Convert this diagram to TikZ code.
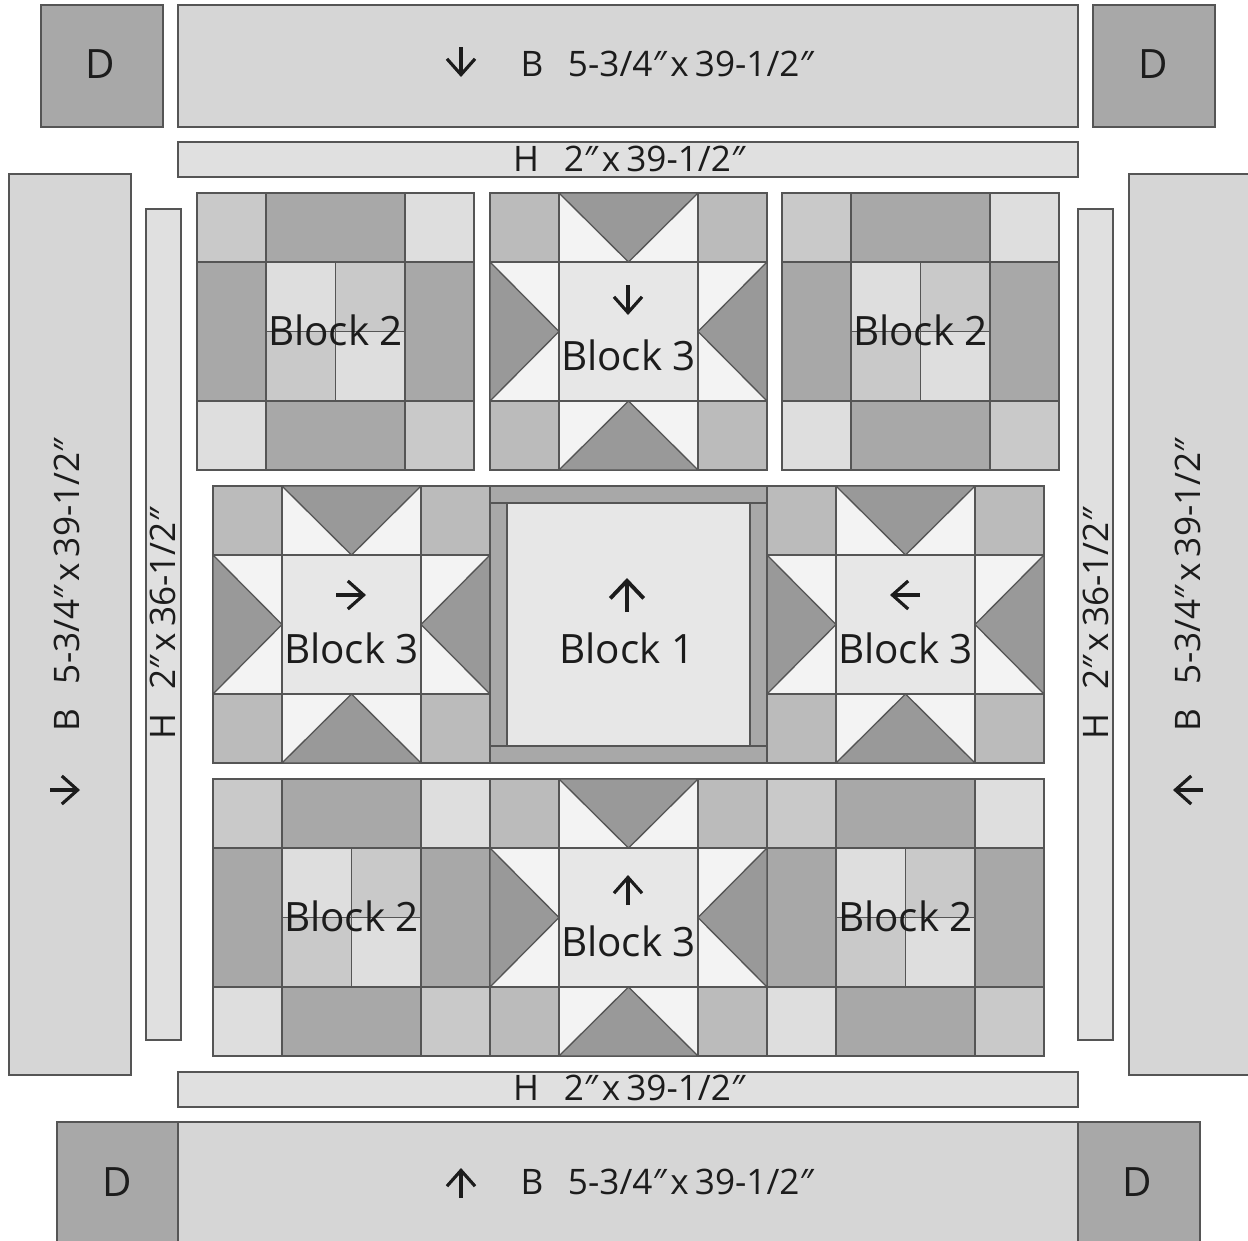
\documentclass[tikz,border=0pt]{standalone}
\usepackage{fontspec}
\setmainfont{Open Sans}
\usetikzlibrary{arrows.meta}

\definecolor{seamgray}{HTML}{555555}
\definecolor{inkgray}{HTML}{1C1C1C}
\definecolor{bordergray}{HTML}{D6D6D6}
\definecolor{sashgray}{HTML}{E0E0E0}
\definecolor{darkgray}{HTML}{A8A8A8}
\definecolor{trigray}{HTML}{999999}
\definecolor{midgray}{HTML}{C9C9C9}
\definecolor{palegray}{HTML}{DEDEDE}
\definecolor{cornergray}{HTML}{BBBBBB}
\definecolor{stargray}{HTML}{F3F3F3}
\definecolor{centergray}{HTML}{E7E7E7}

\newcommand{\inch}{\kern-0.5pt{\itshape ″}\kern-0.5pt}
\newcommand{\bysign}{\hspace{3.5pt}x\hspace{3.5pt}}

\tikzset{
    patch/.style={draw=seamgray, line width=0.75pt},
    lab/.style={text=inkgray, inner sep=0pt, font=\fontsize{23}{27}\selectfont},
    striplab/.style={text=inkgray, inner sep=0pt, font=\fontsize{20}{24}\selectfont},
    arrowmark/.style={draw=inkgray, line width=1.8pt, -{Straight Barb[length=9pt,width=16pt]}},
    bigarrowmark/.style={draw=inkgray, line width=2.2pt, -{Straight Barb[length=10pt,width=19pt]}}
}

\begin{document}
\begin{tikzpicture}[x=0.02cm, y=-0.02cm]
    \useasboundingbox (0,0) rectangle (1248,1241);
    \clip (0,0) rectangle (1248,1241);

    % corner squares
    \fill[white] (0,0) rectangle (1248,1241);
    \foreach \cx/\cy in {41/5, 1093/5, 57/1122, 1078/1122} {
        \filldraw[patch, fill=darkgray] (\cx,\cy) rectangle ++(122,122);
    }

    % outer borders B
    \filldraw[patch, fill=bordergray] (178,5) rectangle (1078,127);
    \filldraw[patch, fill=bordergray] (178,1122) rectangle (1078,1250);
    \filldraw[patch, fill=bordergray] (9,174) rectangle (131,1075);
    \filldraw[patch, fill=bordergray] (1129,174) rectangle (1260,1075);

    % inner borders H
    \filldraw[patch, fill=sashgray] (178,142) rectangle (1078,177);
    \filldraw[patch, fill=sashgray] (178,1072) rectangle (1078,1107);
    \filldraw[patch, fill=sashgray] (146,209) rectangle (181,1040);
    \filldraw[patch, fill=sashgray] (1078,209) rectangle (1113,1040);

    % Block 2
    \foreach \bx/\by in {197/193, 782/193, 213/779, 767/779} {
        \begin{scope}[shift={(\bx,\by)}]
            \filldraw[patch, fill=midgray] (0,0) rectangle (69,69);
            \filldraw[patch, fill=palegray] (208,0) rectangle (277,69);
            \filldraw[patch, fill=palegray] (0,208) rectangle (69,277);
            \filldraw[patch, fill=midgray] (208,208) rectangle (277,277);
            \filldraw[patch, fill=darkgray] (69,0) rectangle (208,69);
            \filldraw[patch, fill=darkgray] (69,208) rectangle (208,277);
            \filldraw[patch, fill=darkgray] (0,69) rectangle (69,208);
            \filldraw[patch, fill=darkgray] (208,69) rectangle (277,208);
            \filldraw[patch, fill=palegray] (69,69) rectangle (138.5,138.5);
            \filldraw[patch, fill=midgray] (138.5,69) rectangle (208,138.5);
            \filldraw[patch, fill=midgray] (69,138.5) rectangle (138.5,208);
            \filldraw[patch, fill=palegray] (138.5,138.5) rectangle (208,208);
            \node[lab] (blocktwo\bx) at (138.5,137.5) {Block 2};
        \end{scope}
    }

    % Block 3
    \foreach \bx/\by in {490/193, 213/486, 767/486, 490/779} {
        \begin{scope}[shift={(\bx,\by)}]
            \foreach \px/\py in {0/0, 208/0, 0/208, 208/208} {
                \filldraw[patch, fill=cornergray] (\px,\py) rectangle ++(69,69);
            }
            \filldraw[patch, fill=stargray] (69,0) rectangle (208,69);
            \filldraw[patch, fill=stargray] (69,208) rectangle (208,277);
            \filldraw[patch, fill=stargray] (0,69) rectangle (69,208);
            \filldraw[patch, fill=stargray] (208,69) rectangle (277,208);
            \filldraw[patch, fill=trigray] (69,0) -- (208,0) -- (138.5,69) -- cycle;
            \filldraw[patch, fill=trigray] (69,277) -- (208,277) -- (138.5,208) -- cycle;
            \filldraw[patch, fill=trigray] (0,69) -- (0,208) -- (69,138.5) -- cycle;
            \filldraw[patch, fill=trigray] (277,69) -- (277,208) -- (208,138.5) -- cycle;
            \filldraw[patch, fill=centergray] (69,69) rectangle (208,208);
            \node[lab] (blockthree\bx\by) at (138.5,162) {Block 3};
        \end{scope}
    }

    % Block 1
    \filldraw[patch, fill=darkgray] (490,486) rectangle (767,763);
    \draw[patch] (490,503) -- (767,503);
    \draw[patch] (490,746) -- (767,746);
    \filldraw[patch, fill=centergray] (507,503) rectangle (750,746);
    \node[lab] (blockone) at (627,648) {Block 1};

    % labels
    \node[lab] (dtl) at (100,64) {D};
    \node[lab] (dtr) at (1153,64) {D};
    \node[lab] (dbl) at (117,1182) {D};
    \node[lab] (dbr) at (1137,1182) {D};
    \node[striplab] (btop) at (666,64) {B\hspace{14pt}5-3/4\inch\bysign 39-1/2\inch};
    \node[striplab] (bbot) at (666,1182) {B\hspace{14pt}5-3/4\inch\bysign 39-1/2\inch};
    \node[striplab, rotate=90] (bleft) at (67,586) {B\hspace{14pt}5-3/4\inch\bysign 39-1/2\inch};
    \node[striplab, rotate=90] (bright) at (1188,586) {B\hspace{14pt}5-3/4\inch\bysign 39-1/2\inch};
    \node[striplab] (htop) at (628,159) {H\hspace{14pt}2\inch\bysign 39-1/2\inch};
    \node[striplab] (hbot) at (628,1088) {H\hspace{14pt}2\inch\bysign 39-1/2\inch};
    \node[striplab, rotate=90] (hleft) at (163,625) {H\hspace{14pt}2\inch\bysign 36-1/2\inch};
    \node[striplab, rotate=90] (hright) at (1096,625) {H\hspace{14pt}2\inch\bysign 36-1/2\inch};

    % direction arrows
    \draw[arrowmark] (461,47) -- (461,77);
    \draw[arrowmark] (461,1198) -- (461,1168);
    \draw[arrowmark] (50,790) -- (80,790);
    \draw[arrowmark] (1203,790) -- (1173,790);
    \draw[arrowmark] (628,285) -- (628,315);
    \draw[arrowmark] (628,905) -- (628,875);
    \draw[arrowmark] (336,595) -- (366,595);
    \draw[arrowmark] (920,595) -- (890,595);
    \draw[bigarrowmark] (627,612) -- (627,578);
\end{tikzpicture}
\end{document}
